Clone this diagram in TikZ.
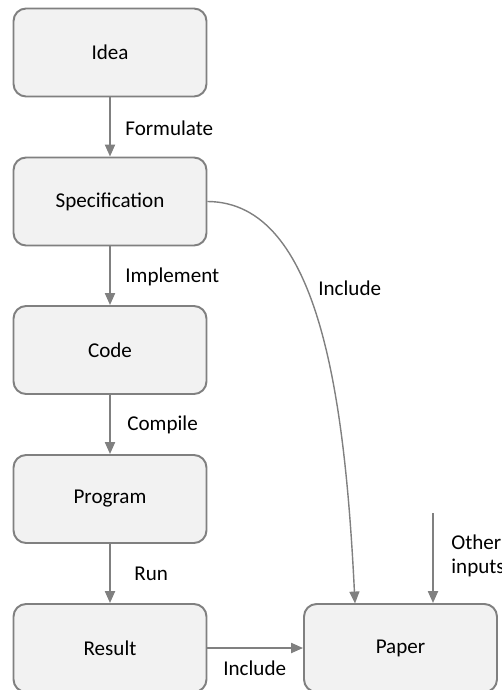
\documentclass[tikz,border=0pt]{standalone}
\usepackage{fontspec}
\setmainfont{Carlito}
\usetikzlibrary{arrows.meta,positioning}
\tikzset{
    %Define standard arrow tip
    >={Triangle[length=6.8pt,width=5.7pt]}
}
\definecolor{boxfill}{RGB}{242,242,242}
\definecolor{boxline}{RGB}{128,128,128}

\begin{document}
\begin{tikzpicture}[x=0.02cm, y=-0.02cm, font=\fontsize{12}{14}\selectfont,
	box/.style={fill=boxfill, draw=boxline, line width=1.1pt, rounded corners=0.25cm, minimum width=3.86cm, minimum height=1.76cm},
	flow/.style={->, draw=boxline, line width=1.1pt},
	lbl/.style={anchor=west, inner sep=0pt, align=left}]

	\useasboundingbox (0,0) rectangle (502,690);

	\node (idea) at (110, 52.5) [box] {Idea};
	\node (spec) at (110, 201.5) [box] {Specification};
	\node (code) at (110, 350) [box] {Code};
	\node (program) at (110, 499) [box] {Program};
	\node (result) at (110, 648) [box] {Result};
	\node (paper) at (400.5, 648) [box] {Paper};

	\coordinate (specin) at (355, 603.5);
	\coordinate (other) at (433, 513);

	\draw[flow] (idea) -- (spec);
	\draw[flow] (spec) -- (code);
	\draw[flow] (code) -- (program);
	\draw[flow] (program) -- (result);
	\draw[flow] (result) -- (paper);
	\draw[flow, line width=0.8pt] (spec.east) .. controls (320,202) and (345,400) .. (specin);
	\draw[flow] (other) -- (other |- paper.north);

	\node (formulate) at (125, 128) [lbl] {Formulate};
	\node (implement) at (125, 277) [lbl] {Implement};
	\node (compile) at (127, 425) [lbl] {Compile};
	\node (run) at (134, 574) [lbl] {Run};
	\node (incspec) at (318, 288) [lbl] {Include};
	\node (incres) at (223, 668) [lbl] {Include};
	\node (otherlbl) at (451, 556) [lbl] {Other\\inputs};

\end{tikzpicture}
\end{document}
